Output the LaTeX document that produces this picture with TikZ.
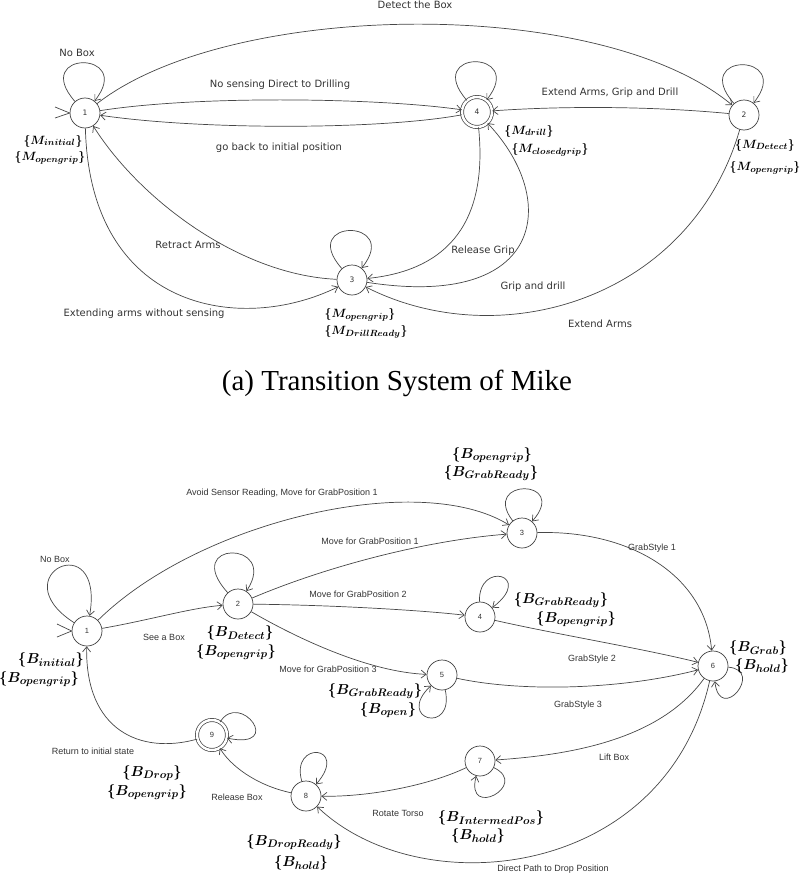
\documentclass[tikz,border=0pt]{standalone}
\usepackage{fontspec}
\usetikzlibrary{arrows.meta}
\newfontfamily\topfont{DejaVu Sans}
\newfontfamily\botfont{Liberation Sans}
\newfontfamily\capfont{Liberation Serif}
\DeclareMathSizes{12}{12}{9}{7}
\DeclareMathSizes{14.4}{14.4}{10.95}{8}
\tikzset{
  ln/.style={draw=black!72, line width=0.7pt},
  arr/.style={ln, -{Straight Barb[length=5pt,width=8pt,line width=0.7pt]}},
  sta/.style={circle, draw=black!75, line width=0.7pt, minimum size=30pt, inner sep=0pt, font=\topfont\fontsize{7.5}{8}\selectfont, text=black!80},
  stb/.style={sta, font=\botfont\fontsize{7.5}{8}\selectfont},
  acc/.style={double, double distance=2.5pt},
  lt/.style={font=\topfont\fontsize{10}{12}\selectfont, text=black!80, inner sep=0pt},
  lb/.style={font=\botfont\fontsize{9}{11}\selectfont, text=black!80, inner sep=0pt},
  mt/.style={font=\fontsize{12}{13}\selectfont\boldmath, inner sep=0pt},
  mb/.style={font=\fontsize{14.4}{15}\selectfont\boldmath, inner sep=0pt},
}
\begin{document}
\begin{tikzpicture}[x=1pt,y=-1pt]
\useasboundingbox (0,0) rectangle (800,875);
% ---------- top diagram ----------
\node[sta] (t1) at (85,113) {1};
\node[sta,acc] (t4) at (477,112) {4};
\node[sta] (t2) at (744,115) {2};
\node[sta] (t3) at (352,280) {3};
\coordinate (ti1) at (55,107);
\coordinate (ti2) at (55,118);
\draw[ln] (ti1) -- (t1.west) -- (ti2);
% loops
\draw[arr] (t1) .. controls (30,50) and (135,50) .. (t1);
\draw[arr] (t4) .. controls (422,49) and (527,49) .. (t4);
\draw[arr] (t2) .. controls (689,52) and (794,52) .. (t2);
\draw[arr] (t3) .. controls (297,218) and (402,218) .. (t3);
% edges
\draw[arr] (t1) .. controls (230,0) and (600,-5) .. (t2);
\draw[arr] (t1) .. controls (200,95) and (380,98) .. (t4);
\draw[arr] (t4) .. controls (380,130) and (200,130) .. (t1);
\draw[arr] (t2) .. controls (650,106) and (560,106) .. (t4);
\draw[arr] (t1) .. controls (90,310) and (240,335) .. (t3);
\draw[arr] (t3) .. controls (240,275) and (140,200) .. (t1);
\draw[arr] (t4) .. controls (488,220) and (450,270) .. (t3);
\draw[arr] (t3) .. controls (545,310) and (560,200) .. (t4);
\draw[arr] (t2) .. controls (690,300) and (500,355) .. (t3);
% edge labels
\node[lt] (lt1) at (77,53) {No Box};
\node[lt] (lt2) at (415,5) {Detect the Box};
\node[lt] (lt3) at (280,85) {No sensing Direct to Drilling};
\node[lt] (lt4) at (279,148) {go back to initial position};
\node[lt] (lt5) at (610,93) {Extend Arms, Grip and Drill};
\node[lt] (lt6) at (188,245) {Retract Arms};
\node[lt] (lt7) at (144,314) {Extending arms without sensing};
\node[lt] (lt8) at (483,251) {Release Grip};
\node[lt] (lt9) at (533,287) {Grip and drill};
\node[lt] (lt10) at (600,324) {Extend Arms};
% state labels
\node[mt] (s1a) at (53,141) {$\{M_{initial}\}$};
\node[mt] (s1b) at (50,158) {$\{M_{opengrip}\}$};
\node[mt] (s4a) at (529,131) {$\{M_{drill}\}$};
\node[mt] (s4b) at (550,150) {$\{M_{closedgrip}\}$};
\node[mt] (s2a) at (765,145) {$\{M_{Detect}\}$};
\node[mt] (s2b) at (765,168) {$\{M_{opengrip}\}$};
\node[mt] (s3a) at (360,315) {$\{M_{opengrip}\}$};
\node[mt] (s3b) at (366,332) {$\{M_{DrillReady}\}$};
% caption
\node[font=\capfont\fontsize{29}{32}\selectfont, inner sep=0pt] (cap) at (397,383) {(a) Transition System of Mike};
% ---------- bottom diagram ----------
\node[stb] (b1) at (87,631) {1};
\node[stb] (b2) at (238,604) {2};
\node[stb] (b3) at (522,533) {3};
\node[stb] (b4) at (480,617) {4};
\node[stb] (b5) at (442,675) {5};
\node[stb] (b6) at (713,666) {6};
\node[stb] (b7) at (480,761) {7};
\node[stb] (b8) at (306,796) {8};
\node[stb,acc] (b9) at (212,735) {9};
\coordinate (bi1) at (57,624);
\coordinate (bi2) at (57,637);
\draw[ln] (bi1) -- (b1.west) -- (bi2);
% loops
\draw[arr] (b1) .. controls (0,575) and (105,525) .. (b1);
\draw[arr] (b2) .. controls (180,540) and (280,540) .. (b2);
\draw[arr] (b3) .. controls (480,478) and (570,478) .. (b3);
\draw[arr] (b4) .. controls (478,560) and (535,575) .. (b4);
\draw[arr] (b5) .. controls (455,735) and (395,720) .. (b5);
\draw[arr] (b6) .. controls (765,670) and (720,725) .. (b6);
\draw[arr] (b7) .. controls (530,785) and (465,820) .. (b7);
\draw[arr] (b8) .. controls (290,740) and (350,745) .. (b8);
\draw[arr] (b9) .. controls (240,690) and (285,750) .. (b9);
% edges
\draw[arr] (b1) .. controls (200,520) and (420,470) .. (b3);
\draw[arr] (b1) .. controls (150,620) and (190,608) .. (b2);
\draw[arr] (b2) .. controls (330,565) and (430,540) .. (b3);
\draw[arr] (b2) .. controls (330,605) and (420,610) .. (b4);
\draw[arr] (b2) .. controls (300,640) and (370,672) .. (b5);
\draw[arr] (b3) .. controls (630,530) and (705,575) .. (b6);
\draw[arr] (b4) .. controls (560,635) and (640,648) .. (b6);
\draw[arr] (b5) .. controls (520,692) and (620,690) .. (b6);
\draw[arr] (b6) .. controls (660,740) and (570,755) .. (b7);
\draw[arr] (b6) .. controls (665,880) and (420,905) .. (b8);
\draw[arr] (b7) .. controls (430,785) and (370,797) .. (b8);
\draw[arr] (b8) .. controls (255,785) and (230,765) .. (b9);
\draw[arr] (b9) .. controls (140,755) and (85,730) .. (b1);
% edge labels
\node[lb] (lb1) at (55,559) {No Box};
\node[lb] (lb2) at (282,493) {Avoid Sensor Reading, Move for GrabPosition 1};
\node[lb] (lb3) at (370,541) {Move for GrabPosition 1};
\node[lb] (lb4) at (358,594) {Move for GrabPosition 2};
\node[lb] (lb5) at (164,637) {See a Box};
\node[lb] (lb6) at (328,669) {Move for GrabPosition 3};
\node[lb] (lb7) at (652,548) {GrabStyle 1};
\node[lb] (lb8) at (592,659) {GrabStyle 2};
\node[lb] (lb9) at (578,705) {GrabStyle 3};
\node[lb] (lb10) at (614,757) {Lift Box};
\node[lb] (lb11) at (398,813) {Rotate Torso};
\node[lb] (lb12) at (553,869) {Direct Path to Drop Position};
\node[lb] (lb13) at (237,797) {Release Box};
\node[lb] (lb14) at (93,751) {Return to initial state};
% state labels
\node[mb] (m3a) at (492,455) {$\{B_{opengrip}\}$};
\node[mb] (m3b) at (491,473) {$\{B_{GrabReady}\}$};
\node[mb] (m4a) at (561,600) {$\{B_{GrabReady}\}$};
\node[mb] (m4b) at (576,619) {$\{B_{opengrip}\}$};
\node[mb] (m6a) at (758,648) {$\{B_{Grab}\}$};
\node[mb] (m6b) at (762,666) {$\{B_{hold}\}$};
\node[mb] (m2a) at (240,633) {$\{B_{Detect}\}$};
\node[mb] (m2b) at (236,652) {$\{B_{opengrip}\}$};
\node[mb] (m1a) at (51,660) {$\{B_{initial}\}$};
\node[mb] (m1b) at (39,679) {$\{B_{opengrip}\}$};
\node[mb] (m5a) at (375,691) {$\{B_{GrabReady}\}$};
\node[mb] (m5b) at (388,710) {$\{B_{open}\}$};
\node[mb] (m9a) at (152,773) {$\{B_{Drop}\}$};
\node[mb] (m9b) at (147,792) {$\{B_{opengrip}\}$};
\node[mb] (m8a) at (294,842) {$\{B_{DropReady}\}$};
\node[mb] (m8b) at (301,863) {$\{B_{hold}\}$};
\node[mb] (m7a) at (491,818) {$\{B_{IntermedPos}\}$};
\node[mb] (m7b) at (478,836) {$\{B_{hold}\}$};
\end{tikzpicture}
\end{document}
